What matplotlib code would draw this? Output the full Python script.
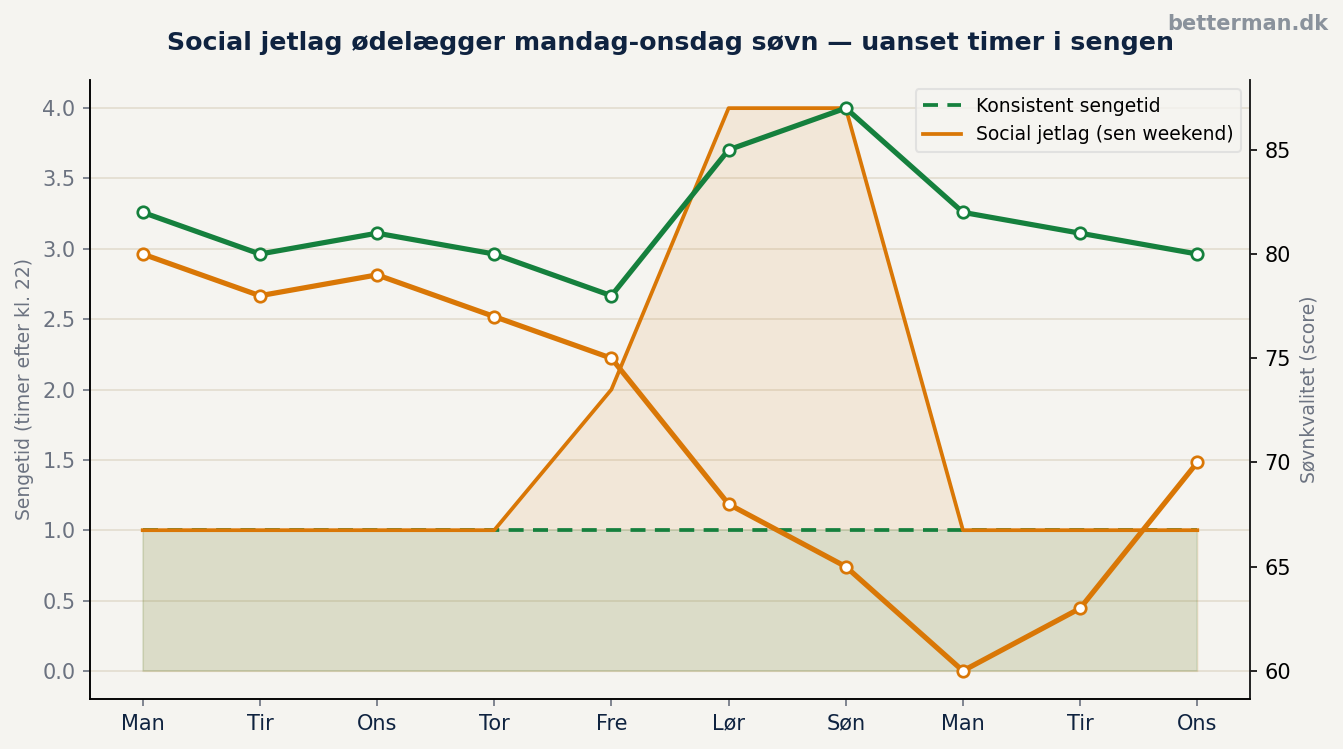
import matplotlib
matplotlib.use("Agg")
import matplotlib.pyplot as plt
from matplotlib.lines import Line2D

days = ["Man", "Tir", "Ons", "Tor", "Fre", "Lør", "Søn", "Man", "Tir", "Ons"]
bedtime_consistent = [1, 1, 1, 1, 1, 1, 1, 1, 1, 1]
bedtime_jetlag = [1, 1, 1, 1, 2, 4, 4, 1, 1, 1]
quality_consistent = [82, 80, 81, 80, 78, 85, 87, 82, 81, 80]
quality_jetlag = [80, 78, 79, 77, 75, 68, 65, 60, 63, 70]

GREEN = "#15803d"
ORANGE = "#d97706"
BG = "#f5f4f0"
GRAY = "#6b7280"
NAVY = "#0f2340"

plt.rcParams["font.family"] = ["DejaVu Sans"]

fig = plt.figure(figsize=(13.43 / 1.5, 7.49 / 1.5), dpi=150, facecolor=BG)
ax = fig.add_axes([90 / 1343, 1 - 699 / 749, (1250 - 90) / 1343, (699 - 80) / 749])
ax.set_facecolor(BG)
x = list(range(len(days)))

ax.fill_between(x, 0, bedtime_jetlag, color=ORANGE, alpha=0.1, lw=0.8)
ax.fill_between(x, 0, bedtime_consistent, color=GREEN, alpha=0.1, lw=0.8)
ax.plot(x, bedtime_consistent, color=GREEN, lw=1.8, ls=(0, (4, 2.5)))
ax.plot(x, bedtime_jetlag, color=ORANGE, lw=1.8)

ax.grid(axis="y", color="#e4dfd3", lw=0.9)
ax.set_axisbelow(True)
ax.set_xticks(x)
ax.set_xticklabels(days, color=NAVY, fontsize=10)
ax.tick_params(axis="x", colors=GRAY, labelcolor=NAVY, labelsize=10)
ax.tick_params(axis="y", colors=GRAY, labelcolor=GRAY, labelsize=10)
ax.set_ylabel("Sengetid (timer efter kl. 22)", color=GRAY, fontsize=9)
for s in ["left", "bottom", "right"]:
    ax.spines[s].set_color("#222222")
ax.spines["top"].set_visible(False)

ax2 = ax.twinx()
ax2.plot(x, quality_consistent, color=GREEN, lw=2.5, marker="o", ms=5.5,
         mfc="white", mec=GREEN, mew=1.3)
ax2.plot(x, quality_jetlag, color=ORANGE, lw=2.5, marker="o", ms=5.5,
         mfc="white", mec=ORANGE, mew=1.3)
ax2.set_ylabel("Søvnkvalitet (score)", color=GRAY, fontsize=9)
ax2.tick_params(axis="y", labelsize=10)
ax2.spines["top"].set_visible(False)
ax2.spines["right"].set_color("#222222")

handles = [Line2D([], [], color=GREEN, lw=1.8, ls=(0, (4, 2.5))),
           Line2D([], [], color=ORANGE, lw=1.8)]
leg = ax2.legend(handles, ["Konsistent sengetid", "Social jetlag (sen weekend)"],
                 loc="upper right", fontsize=9, framealpha=0.8)
leg.get_frame().set_edgecolor("#dddddd")
leg.get_frame().set_facecolor(BG)

fig.text(0.4995, 1 - 43 / 749, "Social jetlag ødelægger mandag-onsdag søvn — uanset timer i sengen",
         ha="center", va="center", fontsize=12.1, fontweight="bold", color=NAVY)
fig.text(1328 / 1343, 1 - 24 / 749, "betterman.dk", ha="right", va="center",
         fontsize=10, fontweight="bold", color="#8a929c")

fig.savefig("out.png", dpi=150, facecolor=BG)
